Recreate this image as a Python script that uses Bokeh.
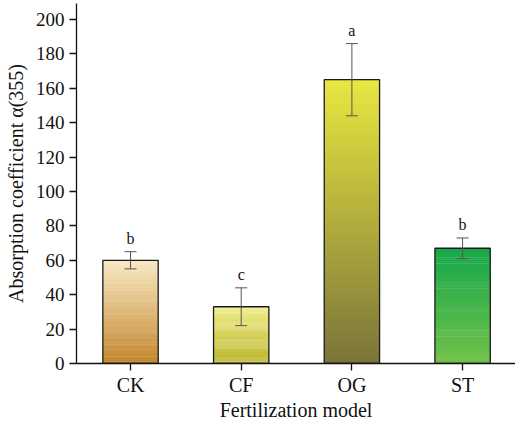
from bokeh.plotting import figure
from bokeh.models import ColumnDataSource, Whisker, TeeHead, FixedTicker
from bokeh.core.properties import value
from bokeh.embed import file_html
from bokeh.resources import INLINE

categories = ["CK", "CF", "OG", "ST"]
means = [60, 33, 165, 67]
errors = [5, 11, 21, 6]
letters = ["b", "c", "a", "b"]
y_ticks = [0, 20, 40, 60, 80, 100, 120, 140, 160, 180, 200]

# gradient colours (top, bottom) per bar
grad = {
    "CK": ((248, 232, 194), (196, 134, 47)),
    "CF": ((240, 237, 136), (187, 181, 44)),
    "OG": ((232, 230, 64), (123, 117, 57)),
    "ST": ((22, 168, 74), (114, 192, 74)),
}

FONT = "Liberation Serif"
xpos = list(range(1, len(categories) + 1))

p = figure(x_range=(0.512, 4.478), y_range=(0, 209.3), width=515, height=423,
           output_backend="svg", toolbar_location=None,
           min_border_left=76, min_border_right=0, min_border_top=3,
           min_border_bottom=60)

N = 60
xs, bots, tops, cols = [], [], [], []
for x, c, v in zip(xpos, categories, means):
    t, b = grad[c]
    for i in range(N):
        f = i / (N - 1)
        rgb = tuple(int(round(b[k] + (t[k] - b[k]) * f)) for k in range(3))
        xs.append(x)
        bots.append(v * i / N)
        tops.append(min(v, v * (i + 1) / N + v * 0.004))
        cols.append("#%02x%02x%02x" % rgb)
p.vbar(x=xs, bottom=bots, top=tops, width=0.5, fill_color=cols, line_color=None)
p.vbar(x=xpos, top=means, width=0.5, fill_color=None, line_color="#1a1a1a", line_width=1.3)

src = ColumnDataSource(dict(
    x=xpos,
    upper=[m + e for m, e in zip(means, errors)],
    lower=[m - e for m, e in zip(means, errors)],
    letter=letters,
))
w = Whisker(base="x", upper="upper", lower="lower", source=src,
            line_color="#555555", line_width=1, level="overlay",
            upper_head=TeeHead(size=12, line_color="#555555", line_width=1),
            lower_head=TeeHead(size=12, line_color="#555555", line_width=1))
p.add_layout(w)

p.text(x="x", y="upper", text="letter", source=src, text_align="center",
       text_baseline="bottom", y_offset=-5, text_font=value(FONT),
       text_font_size="16px", text_color="#111111")

p.xgrid.visible = False
p.ygrid.visible = False
p.outline_line_color = None
p.background_fill_color = "white"

p.yaxis.ticker = FixedTicker(ticks=y_ticks)
p.yaxis.minor_tick_line_color = None
p.xaxis.ticker = FixedTicker(ticks=xpos)
p.xaxis.minor_tick_line_color = None
p.xaxis.major_label_overrides = {x: c for x, c in zip(xpos, categories)}
for ax in (p.xaxis[0], p.yaxis[0]):
    ax.axis_line_color = "#111111"
    ax.axis_line_width = 1.3
    ax.major_tick_line_color = "#111111"
    ax.major_tick_line_width = 1.3
    ax.major_tick_in = 0
    ax.major_tick_out = 7
    ax.major_label_text_font = FONT
    ax.major_label_text_color = "#111111"
    ax.axis_label_text_font = FONT
    ax.axis_label_text_font_size = "20px"
    ax.axis_label_text_font_style = "normal"
    ax.axis_label_text_color = "#111111"
p.xaxis.major_label_text_font_size = "20px"
p.yaxis.major_label_text_font_size = "19px"

p.xaxis.axis_label = "Fertilization model"
p.yaxis.axis_label = "Absorption coefficient α(355)"
p.xaxis.major_label_standoff = 3
p.xaxis.axis_label_standoff = 0
p.yaxis.major_label_standoff = 5
p.yaxis.axis_label_standoff = 6

open("out.html", "w").write(file_html(p, INLINE))
